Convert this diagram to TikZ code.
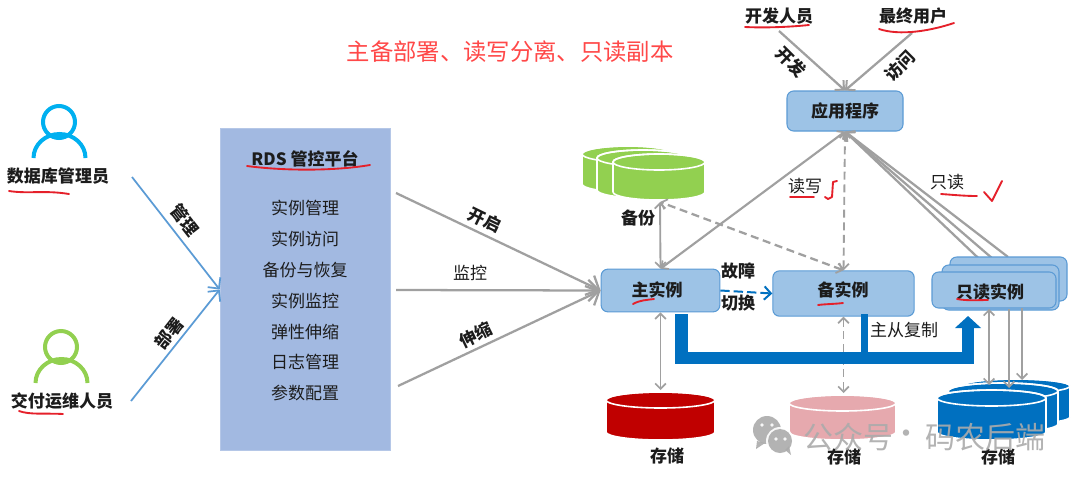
\documentclass[tikz,border=0pt]{standalone}
\usepackage{fontspec}
\setmainfont{Noto Sans CJK SC}
\usetikzlibrary{arrows.meta,calc}
\definecolor{instFill}{HTML}{9DC3E6}
\definecolor{instEdge}{HTML}{5B9BD5}
\definecolor{panelFill}{HTML}{A2B9E1}
\definecolor{linkGray}{HTML}{A0A0A0}
\definecolor{linkBlue}{HTML}{5B9BD5}
\definecolor{replBlue}{HTML}{0070C0}
\definecolor{inkRed}{HTML}{E5202A}
\definecolor{titleRed}{HTML}{FF4848}
\definecolor{ink}{HTML}{1C1C1C}
\definecolor{markGray}{HTML}{ABABAB}
\definecolor{personBlue}{HTML}{00B0F0}
\definecolor{personGreen}{HTML}{92D050}
\definecolor{drumRed}{HTML}{C00000}
\definecolor{drumPink}{HTML}{E6A9AE}
% A storage drum: centre x, centre y of the top face, x radius, y radius, side height, colour
\newcommand{\drum}[6]{%
  \path[fill=#6,draw=white,line width=1.2pt,line join=round]
    ({#1-#3},#2) -- ({#1-#3},{#2+#5})
    arc[start angle=180,end angle=0,x radius=#3,y radius=#4]
    -- ({#1+#3},#2)
    arc[start angle=0,end angle=-180,x radius=#3,y radius=#4] -- cycle;
  \draw[white,line width=1.2pt]
    (#1,#2) ellipse[x radius=#3,y radius=#4];}
% A person glyph: head centre x, y, shoulder centre x, y, colour
\newcommand{\person}[5]{%
  \draw[#5,line width=3pt] (#1,#2) circle[radius=16];
  \draw[#5,line width=3pt] ({#3-26},#4) arc[start angle=180,end angle=360,x radius=26,y radius=24];}
\tikzset{
  x=0.75pt,y=-0.75pt,
  lbl/.style={inner sep=0pt,text=ink,font=\fontsize{12.75pt}{15pt}\selectfont},
  blbl/.style={lbl,font=\fontsize{12.75pt}{15pt}\selectfont\bfseries},
  inst/.style={draw=instEdge,fill=instFill,rounded corners=5pt,line width=0.8pt,inner sep=0pt},
  glink/.style={draw=linkGray,line width=1.7pt},
  gtip/.style={glink,-{Straight Barb[length=5pt,width=10pt,line width=1.5pt]}},
  gboth/.style={glink,{Straight Barb[length=4pt,width=8pt,line width=1.3pt]}-{Straight Barb[length=4pt,width=8pt,line width=1.3pt]},line width=1.4pt},
  gbig/.style={glink,-{Straight Barb[length=8pt,width=16pt,line width=1.7pt]}},
  blink/.style={draw=linkBlue,line width=1.3pt,-{Straight Barb[length=6pt,width=12pt,line width=1.3pt]}},
  dashlink/.style={dash pattern=on 6pt off 3.5pt},
  redmark/.style={draw=inkRed,line width=1.4pt,line cap=round,line join=round},
}
\begin{document}
\begin{tikzpicture}
\useasboundingbox[fill=white] (0,0) rectangle (1080,479);

% Title
\node[inner sep=0pt,text=titleRed,font=\fontsize{17.5pt}{20pt}\selectfont] (title) at (510,52) {主备部署、读写分离、只读副本};

% Operators on the left
\person{59}{122}{59.5}{158}{personBlue}
\person{61}{347}{61.5}{383}{personGreen}
\node[blbl] (dba) at (58,176) {数据库管理员};
\node[blbl] (ops) at (62,401) {交付运维人员};

% Management platform panel
\node[fill=panelFill,draw=panelFill!80!white,line width=0.5pt,minimum width=127.5pt,minimum height=241.5pt,inner sep=0pt] (rds) at (305,289.5) {};
\node[blbl] (rdsTitle) at (305,159) {RDS 管控平台};
\foreach \nm/\yy/\tx in {f1/208/实例管理,f2/239/实例访问,f3/270/备份与恢复,f4/301/实例监控,f5/332/弹性伸缩,f6/362/日志管理,f7/393/参数配置}
  \node[lbl] (\nm) at (305,\yy) {\tx};

% Operator links into the panel
\coordinate (dbaOut) at (132,177);
\coordinate (opsOut) at (131,401);
\draw[blink] (dbaOut) -- (rds.west);
\draw[blink] (opsOut) -- (rds.west);
\node[blbl,rotate=-52] (manage) at (185,220) {管理};
\node[blbl,rotate=52] (deploy) at (169,333) {部署};

% Instances
\node[inst,minimum width=89pt,minimum height=32pt] (primary) at (660.5,290.5) {};
\node[inst,minimum width=106pt,minimum height=34pt] (standby) at (843.5,293.5) {};
\node[inst,minimum width=87pt,minimum height=30pt] (app) at (845,111) {};
\node[blbl] (appText) at (845,111) {应用程序};
\node[blbl] (dev) at (779,16) {开发人员};
\node[blbl] (user) at (913,16) {最终用户};

% Links from the panel to the primary instance
\coordinate (panelA) at (396,193);
\coordinate (panelB) at (396,290);
\coordinate (panelC) at (398,386);
\draw[gbig] (panelA) -- (primary.west);
\draw[gbig] (panelB) -- (primary.west);
\draw[gbig] (panelC) -- (primary.west);
\node[blbl,rotate=-26] (open) at (485,220) {开启};
\node[lbl] (watch) at (470,273) {监控};
\node[blbl,rotate=26] (scale) at (476,335) {伸缩};

% Links from people to the application
\coordinate (devOut) at (779,31);
\coordinate (userOut) at (912,33);
\draw[gtip] (devOut) -- (app.north);
\draw[gtip] (userOut) -- (app.north);
\node[blbl,rotate=-45] (devLink) at (791,62) {开发};
\node[blbl,rotate=45] (userLink) at (900,66) {访问};

% Drums
\drum{628}{154}{46}{8}{30}{personGreen}
\drum{643}{158}{46}{8}{32}{personGreen}
\drum{659}{162}{46}{8}{30}{personGreen}
\coordinate (backupDrum) at (660,202);
\drum{660.5}{400}{54.5}{8}{32}{drumRed}
\drum{842.5}{403}{53.5}{8}{29}{drumPink}
\drum{1016}{386}{54}{7}{31}{replBlue}
\drum{1003}{391}{55}{8}{33}{replBlue}
\drum{991.5}{398}{54.5}{8}{34}{replBlue}
\coordinate (storeMain) at (660.5,390);
\coordinate (storeStandby) at (843.5,393);

% Application to instances
\draw[gboth,line width=1.6pt] (app.south) -- (primary.north);
\draw[gboth,dashlink] (app.south) -- (standby.north);
\coordinate (roTopA) at (993,272);
\coordinate (roTopB) at (1000,265);
\coordinate (roTopC) at (1008,257);
\draw[gtip] (roTopA) -- (app.south);
\draw[gtip] (roTopB) -- (app.south);
\draw[gtip] (roTopC) -- (app.south);

% Backup links
\draw[gboth] (primary.north) -- (backupDrum);
\draw[gboth,dashlink,line width=1.7pt] (standby.north) -- (backupDrum);

% Read replicas stacked back to front
\node[inst,minimum width=87.75pt,minimum height=33pt] (roBack) at (1008.5,279) {};
\node[inst,minimum width=87.75pt,minimum height=33.75pt] (roMid) at (1000.5,287.5) {};
\node[inst,minimum width=93pt,minimum height=27pt] (ro) at (994,290) {};

% Instance captions
\node[blbl] (primaryText) at (657,290) {主实例};
\node[blbl] (standbyText) at (843,290) {备实例};
\node[blbl] (roText) at (990,292) {只读实例};

% Instance to storage links
\draw[gboth] (primary.south) -- (storeMain);
\draw[gboth,dashlink] (standby.south) -- (storeStandby);
\coordinate (roStoreA) at (989,385);
\coordinate (roStoreB) at (1009,388);
\coordinate (roStoreC) at (1022,380);
\coordinate (roUpA) at (989,309);
\coordinate (roUpB) at (1009,309);
\coordinate (roUpC) at (1022,308);
\draw[gboth] (roUpA) -- (roStoreA);
\draw[glink,line width=1.4pt,-{Straight Barb[length=4pt,width=8pt,line width=1.3pt]}] (roUpB) -- (roStoreB);
\draw[glink,line width=1.4pt,-{Straight Barb[length=4pt,width=8pt,line width=1.3pt]}] (roUpC) -- (roStoreC);

% Replication channel
\coordinate (replFrom) at (681.5,314);
\coordinate (replBend) at (968,358);
\coordinate (replTo) at (968,316);
\coordinate (replStub) at (864.5,314);
\draw[replBlue,line width=9.2pt,line join=miter,-{Triangle[length=9pt,width=19pt]}] (replFrom) |- (replBend) -- (replTo);
\draw[replBlue,line width=5pt] (replStub) -- (replStub |- replBend);
\node[lbl] (replText) at (904,330) {主从复制};

% Failover
\draw[replBlue,line width=1.5pt,dash pattern=on 7pt off 3pt,-{Straight Barb[length=5pt,width=10pt,line width=1.5pt]}] (primary.east) -- (standby.west);
\node[blbl] (failA) at (738,271) {故障};
\node[blbl] (failB) at (738,303) {切换};

% Captions under the drums and on the links
\node[blbl] (backupText) at (638,218) {备份};
\node[blbl] (storeA) at (667,456) {存储};
\node[blbl] (storeB) at (844,457) {存储};
\node[blbl] (storeC) at (998,457) {存储};
\node[lbl] (rwText) at (805,186) {读写};
\node[lbl] (roLink) at (947,182) {只读};

% Hand-drawn red marks
\draw[redmark] (9,191) .. controls (28,194) and (45,190) .. (69,194);
\draw[redmark] (19,411) .. controls (30,415) and (45,413) .. (63,414);
\draw[redmark] (247,166) .. controls (285,171) and (335,171) .. (370,165);
\draw[redmark] (745,27) .. controls (765,28) and (790,27) .. (809,25);
\draw[redmark] (879,29) .. controls (900,36) and (930,31) .. (954,23);
\draw[redmark] (790,197) -- (814,197);
\draw[redmark] (825,197) -- (828,199) -- (832,197) -- (833,182) -- (837,181);
\draw[redmark] (941,194) .. controls (955,195) and (965,196) .. (977,196);
\draw[redmark] (984,192) -- (992,201) -- (1002,181);
\draw[redmark] (633,304) .. controls (640,300) and (647,300) .. (654,299);
\draw[redmark] (818,305) .. controls (826,304) and (835,304) .. (843,303);
\draw[redmark] (957,299) .. controls (968,301) and (978,300) .. (988,300);

% Account mark along the lower edge
\begin{scope}[opacity=0.9]
  \fill[markGray] (767,430) circle[radius=14];
  \fill[markGray] (757,441) -- (756,449) -- (765,443) -- cycle;
  \fill[white] (780,441) circle[radius=14];
  \fill[markGray] (780,441) circle[radius=12];
  \fill[markGray] (785,450) -- (791,455) -- (789,446) -- cycle;
  \foreach \dx/\dy in {762/425,772/425,776/439,785/439} \fill[white] (\dx,\dy) circle[radius=1.8];
  \node[inner sep=0pt,text=markGray,font=\fontsize{22.5pt}{25pt}\selectfont] (accountA) at (848.5,437) {公众号};
  \node[inner sep=0pt,text=markGray,font=\fontsize{22.5pt}{25pt}\selectfont] (accountDot) at (906,437) {·};
  \node[inner sep=0pt,text=markGray,font=\fontsize{22.5pt}{25pt}\selectfont] (accountB) at (985,437) {码农后端};
\end{scope}
\end{tikzpicture}
\end{document}
